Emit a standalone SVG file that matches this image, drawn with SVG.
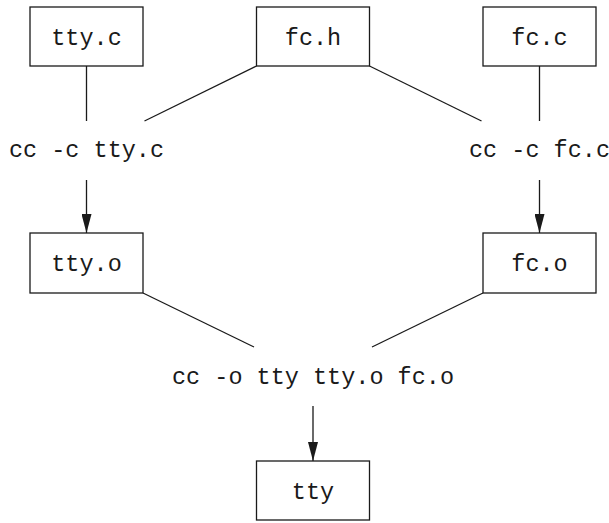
<svg xmlns="http://www.w3.org/2000/svg" width="609" height="523" viewBox="0 0 609 523">
<style>
.box{fill:#fff;stroke:#1a1a1a;stroke-width:1.3}
.t{font-family:"Liberation Mono","DejaVu Sans Mono",monospace;font-size:23.5px;fill:#1a1a1a;text-anchor:middle}
.c{stroke:#1a1a1a;stroke-width:1.3;fill:none}
</style>
<defs>
<marker id="ah" markerWidth="19" markerHeight="10" refX="19" refY="5" orient="auto" markerUnits="userSpaceOnUse" viewBox="0 0 19 10">
<path d="M0,0 L19,5 L0,10 Z" fill="#1a1a1a"/>
</marker>
</defs>
<rect width="609" height="523" fill="#fff"/>
<g id="connectors">
<line class="c" x1="86.5" y1="66" x2="86.5" y2="121"/>
<line class="c" x1="256.5" y1="66" x2="144.5" y2="121"/>
<line class="c" x1="369.5" y1="66" x2="481.5" y2="121"/>
<line class="c" x1="539.5" y1="66" x2="539.5" y2="121"/>
<line class="c" x1="86.5" y1="180" x2="86.5" y2="233" marker-end="url(#ah)"/>
<line class="c" x1="539.5" y1="180" x2="539.5" y2="233" marker-end="url(#ah)"/>
<line class="c" x1="143" y1="293" x2="254" y2="347"/>
<line class="c" x1="483" y1="293" x2="372" y2="347"/>
<line class="c" x1="313" y1="406" x2="313" y2="461" marker-end="url(#ah)"/>
</g>
<g id="tty_c"><rect class="box" x="30" y="7" width="113" height="59"/><text class="t" x="86.5" y="44.5">tty.c</text></g>
<g id="fc_h"><rect class="box" x="256.5" y="7" width="113" height="59"/><text class="t" x="313" y="44.5">fc.h</text></g>
<g id="fc_c"><rect class="box" x="483" y="7" width="113" height="59"/><text class="t" x="539.5" y="44.5">fc.c</text></g>
<g id="cc_tty"><text class="t" x="86.5" y="157">cc -c tty.c</text></g>
<g id="cc_fc"><text class="t" x="539.5" y="157">cc -c fc.c</text></g>
<g id="tty_o"><rect class="box" x="30" y="233" width="113" height="60"/><text class="t" x="86.5" y="271">tty.o</text></g>
<g id="fc_o"><rect class="box" x="483" y="233" width="113" height="60"/><text class="t" x="539.5" y="271">fc.o</text></g>
<g id="cc_link"><text class="t" x="313" y="384">cc -o tty tty.o fc.o</text></g>
<g id="tty"><rect class="box" x="256.5" y="461" width="113" height="59"/><text class="t" x="313" y="498.5">tty</text></g>
</svg>
